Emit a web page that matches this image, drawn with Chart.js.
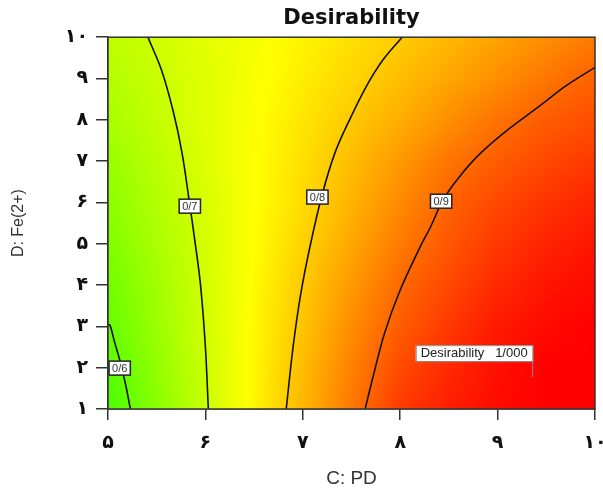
<!DOCTYPE html>
<html lang="fa">
<head>
<meta charset="UTF-8" />
<title>Desirability</title>
<script src="https://cdn.jsdelivr.net/npm/chart.js"></script>
<style>
  html, body { margin: 0; padding: 0; background: #fff; }
  #wrap { width: 603px; height: 490px; }
</style>
</head>
<body>
<div id="wrap"><canvas id="desChart"></canvas></div>
<script>
// axis ticks (Persian digits as in the original)
const xTicks = [5, 6, 7, 8, 9, 10];
const xTickLabels = ['۵', '۶', '۷', '۸', '۹', '۱۰'];
const yTicks = [1, 2, 3, 4, 5, 6, 7, 8, 9, 10];
const yTickLabels = ['۱', '۲', '۳', '۴', '۵', '۶', '۷', '۸', '۹', '۱۰'];

// desirability, on a grid of C (PD) x D (Fe2+)
const gridC = [5, 5.5, 6, 6.5, 7, 7.5, 8, 8.5, 9, 9.5, 10];
const gridD = [1, 2, 3, 4, 5, 6, 7, 8, 9, 10];
const desirability = [
  [0.571, 0.634, 0.696, 0.759, 0.821, 0.883, 0.943, 0.970, 0.990, 1.000, 1.000],
  [0.586, 0.643, 0.700, 0.758, 0.816, 0.873, 0.928, 0.960, 0.985, 1.000, 1.000],
  [0.599, 0.652, 0.704, 0.756, 0.808, 0.862, 0.910, 0.945, 0.975, 0.990, 1.000],
  [0.610, 0.658, 0.706, 0.754, 0.802, 0.850, 0.897, 0.930, 0.960, 0.980, 0.990],
  [0.625, 0.667, 0.709, 0.751, 0.793, 0.836, 0.880, 0.915, 0.945, 0.965, 0.980],
  [0.636, 0.675, 0.712, 0.749, 0.785, 0.824, 0.865, 0.903, 0.930, 0.950, 0.965],
  [0.650, 0.683, 0.716, 0.749, 0.781, 0.815, 0.850, 0.885, 0.910, 0.930, 0.945],
  [0.665, 0.692, 0.720, 0.747, 0.775, 0.803, 0.830, 0.860, 0.888, 0.910, 0.925],
  [0.675, 0.697, 0.720, 0.744, 0.767, 0.790, 0.814, 0.837, 0.861, 0.884, 0.905],
  [0.684, 0.703, 0.722, 0.741, 0.761, 0.780, 0.800, 0.820, 0.840, 0.860, 0.880]
];

// contour lines [C, D]
const contour06 = [[5.0, 3.05], [5.02, 3.03], [5.07, 2.6], [5.12, 2.19], [5.18, 1.6], [5.23, 1.0]];
const contour07 = [[6.03, 1.0], [6.0, 2.5], [5.95, 4.0], [5.89, 5.1], [5.83, 6.1], [5.76, 7.2], [5.67, 8.2], [5.55, 9.2], [5.41, 10.0]];
const contour08 = [[6.83, 1.0], [6.9, 2.5], [6.98, 3.8], [7.08, 5.0], [7.2, 6.2], [7.33, 7.2], [7.48, 8.0], [7.65, 8.8], [7.82, 9.44], [8.02, 10.0]];
const contour09 = [[7.64, 1.0], [7.72, 1.77], [7.84, 2.84], [8.0, 3.88], [8.2, 4.9], [8.31, 5.4], [8.44, 6.06], [8.6, 6.6], [8.82, 7.18], [9.1, 7.75], [9.44, 8.35], [9.7, 8.82], [10.0, 9.27]];

// contour labels: text, C, D
const contourLabels = [['0/6', 5.12, 1.99], ['0/7', 5.84, 5.91], ['0/8', 7.15, 6.13], ['0/9', 8.42, 6.03]];
// optimum flag
const optimumLabel = 'Desirability   1/000';
const optimumPoint = [9.36, 1.77];

function toPoints(arr) { return arr.map(p => ({ x: p[0], y: p[1] })); }

function valueAt(c, d) {
  let i = 0, j = 0;
  while (i < gridC.length - 2 && c > gridC[i + 1]) i++;
  while (j < gridD.length - 2 && d > gridD[j + 1]) j++;
  const tx = Math.min(1, Math.max(0, (c - gridC[i]) / (gridC[i + 1] - gridC[i])));
  const ty = Math.min(1, Math.max(0, (d - gridD[j]) / (gridD[j + 1] - gridD[j])));
  const a = desirability[j][i], b = desirability[j][i + 1];
  const e = desirability[j + 1][i], f = desirability[j + 1][i + 1];
  return (a * (1 - tx) + b * tx) * (1 - ty) + (e * (1 - tx) + f * tx) * ty;
}

// green -> yellow -> red
function colorFor(v) {
  const t = Math.min(1, Math.max(0, (v - 0.5) / 0.5));
  if (t < 0.5) return [Math.round(510 * t), 255, 0];
  return [255, Math.round(255 * (1 - (t - 0.5) * 2)), 0];
}

const heatmapPlugin = {
  id: 'heatmap',
  beforeDatasetsDraw(chart) {
    const { ctx, chartArea: a, scales } = chart;
    const w = Math.round(a.right - a.left), h = Math.round(a.bottom - a.top);
    const off = document.createElement('canvas');
    off.width = w; off.height = h;
    const octx = off.getContext('2d');
    const img = octx.createImageData(w, h);
    for (let py = 0; py < h; py++) {
      const d = scales.y.getValueForPixel(a.top + py + 0.5);
      for (let px = 0; px < w; px++) {
        const c = scales.x.getValueForPixel(a.left + px + 0.5);
        const col = colorFor(valueAt(c, d));
        const k = (py * w + px) * 4;
        img.data[k] = col[0]; img.data[k + 1] = col[1]; img.data[k + 2] = col[2]; img.data[k + 3] = 255;
      }
    }
    octx.putImageData(img, 0, 0);
    ctx.drawImage(off, a.left, a.top);
  },
  afterDatasetsDraw(chart) {
    const { ctx, chartArea: a, scales } = chart;
    ctx.save();
    ctx.font = '11px "Liberation Sans", Arial, sans-serif';
    ctx.textAlign = 'center';
    ctx.textBaseline = 'middle';
    contourLabels.forEach(l => {
      const x = scales.x.getPixelForValue(l[1]);
      const y = scales.y.getPixelForValue(l[2]);
      const tw = ctx.measureText(l[0]).width + 6;
      ctx.fillStyle = '#fff';
      ctx.fillRect(x - tw / 2, y - 7, tw, 14);
      ctx.strokeStyle = '#222';
      ctx.lineWidth = 1.5;
      ctx.strokeRect(x - tw / 2, y - 7, tw, 14);
      ctx.fillStyle = '#333';
      ctx.fillText(l[0], x, y + 0.5);
    });
    // optimum flag
    const fx = scales.x.getPixelForValue(optimumPoint[0]);
    const fy = scales.y.getPixelForValue(optimumPoint[1]);
    ctx.font = '13px "Liberation Sans", Arial, sans-serif';
    const fw = ctx.measureText(optimumLabel).width + 10;
    ctx.strokeStyle = '#888';
    ctx.lineWidth = 1;
    ctx.beginPath();
    ctx.moveTo(fx, fy); ctx.lineTo(fx, fy - 16);
    ctx.stroke();
    ctx.fillStyle = '#fff';
    ctx.fillRect(fx - fw, fy - 32, fw, 16);
    ctx.strokeRect(fx - fw + 0.5, fy - 31.5, fw, 16);
    ctx.fillStyle = '#222';
    ctx.textAlign = 'left';
    ctx.fillText(optimumLabel, fx - fw + 5, fy - 23.5);
    // frame
    ctx.strokeStyle = '#333';
    ctx.lineWidth = 1.5;
    ctx.strokeRect(a.left, a.top, a.right - a.left, a.bottom - a.top);
    ctx.restore();
  }
};

const lineStyle = { type: 'line', borderColor: '#111', borderWidth: 1.6, pointRadius: 0, tension: 0.35, fill: false };

new Chart(document.getElementById('desChart'), {
  type: 'scatter',
  data: {
    datasets: [
      { ...lineStyle, label: '0.6', data: toPoints(contour06) },
      { ...lineStyle, label: '0.7', data: toPoints(contour07) },
      { ...lineStyle, label: '0.8', data: toPoints(contour08) },
      { ...lineStyle, label: '0.9', data: toPoints(contour09) }
    ]
  },
  options: {
    responsive: true,
    maintainAspectRatio: false,
    animation: false,
    layout: { padding: { left: 0, right: 8, top: 0, bottom: 0 } },
    plugins: {
      legend: { display: false },
      tooltip: { enabled: false },
      title: {
        display: true,
        fullSize: false,
        text: 'Desirability',
        color: '#111',
        font: { family: '"DejaVu Sans", sans-serif', size: 21, weight: 'bold' },
        padding: { top: 6, bottom: 6 }
      }
    },
    scales: {
      x: {
        type: 'linear', min: 5, max: 10,
        afterBuildTicks: s => { s.ticks = xTicks.map(v => ({ value: v })); },
        afterFit: s => { s.height = 81; s.paddingLeft = 0; s.paddingRight = 0; },
        ticks: {
          color: '#111', padding: 12,
          font: { family: '"DejaVu Sans", sans-serif', size: 19, weight: 'bold' },
          callback: v => xTickLabels[xTicks.indexOf(v)]
        },
        grid: { drawOnChartArea: false, tickLength: 11, color: '#333', lineWidth: 1.5 },
        border: { color: '#333', width: 1.5 },
        title: {
          display: true, text: 'C: PD', color: '#333', padding: { top: 0, bottom: 0 },
          font: { family: '"Liberation Sans", Arial, sans-serif', size: 19 }
        }
      },
      y: {
        type: 'linear', min: 1, max: 10,
        afterBuildTicks: s => { s.ticks = yTicks.map(v => ({ value: v })); },
        afterFit: s => { s.width = 108; s.paddingTop = 0; s.paddingBottom = 0; },
        ticks: {
          color: '#111', padding: 8,
          font: { family: '"DejaVu Sans", sans-serif', size: 19, weight: 'bold' },
          callback: v => yTickLabels[yTicks.indexOf(v)]
        },
        grid: { drawOnChartArea: false, tickLength: 12, color: '#333', lineWidth: 1.5 },
        border: { color: '#333', width: 1.5 },
        title: {
          display: true, text: 'D: Fe(2+)', color: '#333', padding: { top: 9, bottom: 0 },
          font: { family: '"Liberation Sans", Arial, sans-serif', size: 16 }
        }
      }
    }
  },
  plugins: [heatmapPlugin]
});
</script>
</body>
</html>
